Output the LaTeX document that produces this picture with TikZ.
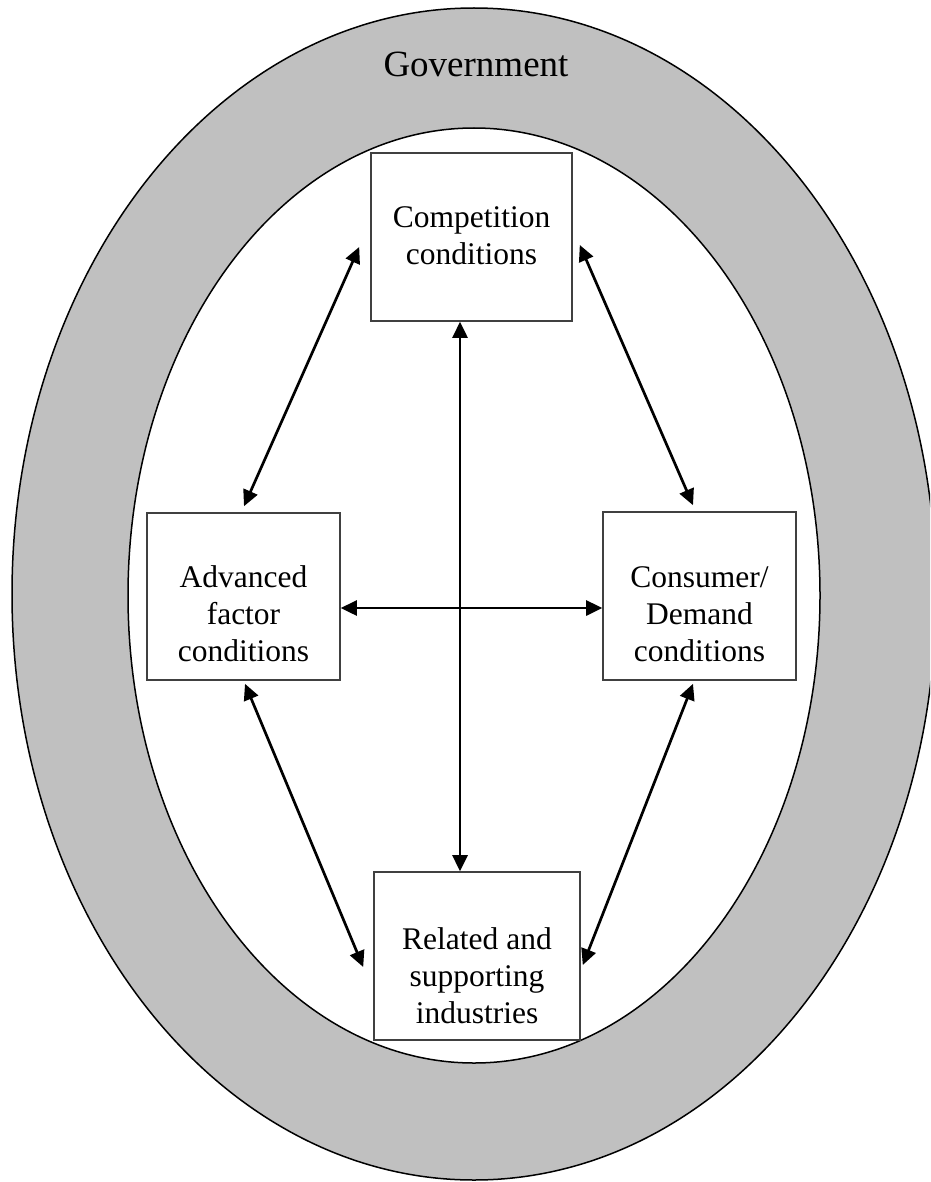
\documentclass[tikz,border=0pt]{standalone}
\usepackage{fontspec}
\setmainfont{Liberation Serif}
\usetikzlibrary{arrows.meta}
\definecolor{ringgray}{RGB}{192,192,192}
\tikzset{
  ring/.style={draw=black, line width=1.5pt},
  boxnode/.style={draw=black!75, line width=1.6pt, fill=white, inner sep=0pt},
  boxtxt/.style={align=center, inner sep=0pt, font=\fontsize{31.5}{37}\selectfont},
  govtxt/.style={inner sep=0pt, font=\fontsize{37}{40}\selectfont},
  link/.style={line width=2.7pt, {Triangle[length=16pt,width=15pt]}-{Triangle[length=16pt,width=15pt]}}
}
\begin{document}
\begin{tikzpicture}[x=1pt,y=-1pt]
\useasboundingbox (0,0) rectangle (930,1182);
\clip (0,0) rectangle (930,1182);
% rings
\draw[ring, fill=ringgray] (474,594) ellipse [x radius=462, y radius=586];
\draw[ring, fill=white] (474,595.5) ellipse [x radius=346, y radius=467.5];
\node[govtxt, anchor=base] (gov) at (476,77) {Government};
% boxes
\node[boxnode, minimum width=201, minimum height=168] (comp) at (471.5,237) {};
\node[boxnode, minimum width=193, minimum height=167] (adv) at (243.5,596.5) {};
\node[boxnode, minimum width=193, minimum height=168] (cons) at (699.5,596) {};
\node[boxnode, minimum width=206, minimum height=168] (rel) at (477,956) {};
% texts (anchor = baseline of last line)
\node[boxtxt, anchor=base] (comptxt) at (471.5,265) {Competition\\conditions};
\node[boxtxt, anchor=base] (advtxt) at (243.5,661) {Advanced\\factor\\conditions};
\node[boxtxt, anchor=base] (constxt) at (699.5,661) {Consumer/\\Demand\\conditions};
\node[boxtxt, anchor=base] (reltxt) at (477,1023) {Related and\\supporting\\industries};
% connectors
\draw[link] ([shift={(-11.5,0)}]comp.south) -- ([shift={(-17,0)}]rel.north);
\draw[link] ([shift={(0,11.5)}]adv.east) -- ([shift={(0,12)}]cons.west);
\draw[link] ([shift={(-11,10)}]comp.west) -- ([shift={(0.5,-6)}]adv.north);
\draw[link] ([shift={(7,8)}]comp.east) -- ([shift={(-6.5,-6)}]cons.north);
\draw[link] ([shift={(1.5,3)}]adv.south) -- ([shift={(-10,11)}]rel.west);
\draw[link] ([shift={(-6.5,3)}]cons.south) -- ([shift={(2,9)}]rel.east);
\end{tikzpicture}
\end{document}
